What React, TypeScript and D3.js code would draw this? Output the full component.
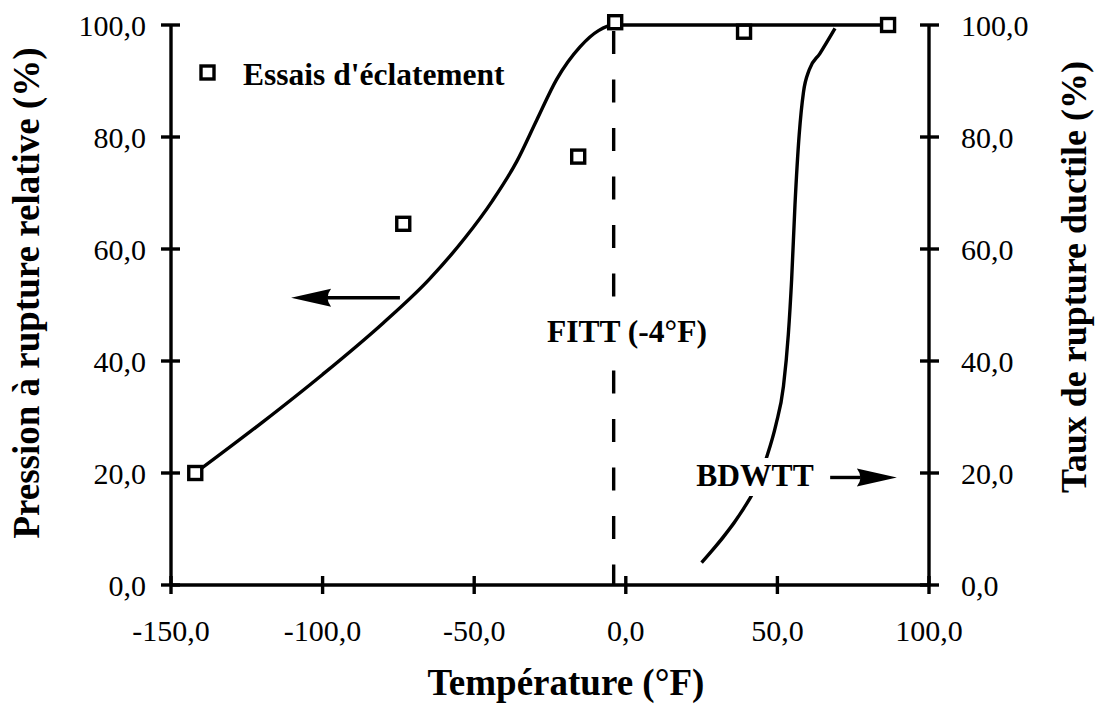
import React from "react";
import * as d3 from "d3";

// Burst tests (Essais d'éclatement): temperature (°F) and relative burst pressure (%)
const burstTemp = [-142, -73.4, -15.7, -3.5, 39, 86.5];
const burstPressure = [20, 64.5, 76.5, 100.5, 98.8, 100];

// Fitted relative burst pressure curve (left axis)
const pressureCurveTemp = [-142, -120, -100, -80, -65, -53, -44, -36, -29.4, -22.8, -15.1, -9, -4, 86.5];
const pressureCurveValue = [20, 29, 37.6, 46.8, 54.5, 62, 68.6, 75.6, 83, 90.3, 96.1, 99, 100, 100];

// BDWTT ductile fracture curve (right axis)
const ductileCurveTemp = [25, 38.8, 42, 46.5, 49.5, 52, 53.6, 54.7, 55.8, 57.2, 58.6, 60.5, 64, 69];
const ductileCurveValue = [4, 13.6, 16.5, 22.9, 28.6, 35.5, 44.7, 54.6, 67.9, 80.5, 88, 92, 94.9, 99.4];

// Axis ticks
const xTicks = [-150, -100, -50, 0, 50, 100];
const yTicks = [0, 20, 40, 60, 80, 100];

// FITT transition temperature
const fittTemp = -4;

const fmt = (v: number) => v.toFixed(1).replace(".", ",");

const W = 1099;
const H = 711;
const SERIF = "'Liberation Serif', 'Times New Roman', Times, serif";
const SW = 3.4;

export default function App() {
  const x = d3.scaleLinear().domain([-150, 100]).range([171, 929]);
  const y = d3.scaleLinear().domain([0, 100]).range([585, 25]);
  const yR = d3.scaleLinear().domain([0, 100]).range([585, 25]);

  const line = d3
    .line<[number, number]>()
    .x((d) => x(d[0]))
    .curve(d3.curveMonotoneX);

  const pressurePath = line.y((d) => y(d[1]))(
    pressureCurveTemp.map((t, i) => [t, pressureCurveValue[i]] as [number, number])
  );
  const ductilePath = line.y((d) => yR(d[1]))(
    ductileCurveTemp.map((t, i) => [t, ductileCurveValue[i]] as [number, number])
  );

  const x0 = x(-150);
  const x1 = x(100);
  const yb = y(0);
  const yt = y(100);
  const tick = 9;
  const sq = 13;

  // arrow helper: shaft + triangular head
  const arrow = (fromT: number, toT: number, v: number, scale: (n: number) => number) => {
    const xa = x(fromT);
    const xb = x(toT);
    const yy = scale(v);
    const dir = Math.sign(xb - xa);
    const headLen = 40;
    const half = 9;
    const base = xb - dir * headLen;
    return (
      <g>
        <line x1={xa} y1={yy} x2={base + dir * 4} y2={yy} stroke="#000" strokeWidth={SW} />
        <path
          d={`M${xb},${yy} L${base},${yy - half} Q${base + dir * 7},${yy} ${base},${yy + half} Z`}
          fill="#000"
        />
      </g>
    );
  };

  const fx = x(fittTemp);

  return (
    <svg
      width={W}
      height={H}
      style={{ position: "absolute", left: 0, top: 0, background: "#fff" }}
      fontFamily={SERIF}
    >
      <rect width={W} height={H} fill="#fff" />

      {/* FITT dashed marker */}
      <line
        x1={fx}
        x2={fx}
        y1={yt + 6}
        y2={yb}
        stroke="#000"
        strokeWidth={SW}
        strokeDasharray="23 25.5"
      />

      {/* curves */}
      <path d={pressurePath ?? ""} fill="none" stroke="#000" strokeWidth={SW} />
      <path d={ductilePath ?? ""} fill="none" stroke="#000" strokeWidth={SW} />

      {/* axes */}
      <g stroke="#000" strokeWidth={SW}>
        <line x1={x0} y1={yb} x2={x1} y2={yb} />
        <line x1={x0} y1={yt} x2={x0} y2={yb} />
        <line x1={x1} y1={yt} x2={x1} y2={yb} />
        {xTicks.map((t) => (
          <line key={"xt" + t} x1={x(t)} x2={x(t)} y1={yb - tick} y2={yb + tick} />
        ))}
        {yTicks.map((t) => (
          <line key={"yl" + t} x1={x0 - tick - 1} x2={x0 + tick} y1={y(t)} y2={y(t)} />
        ))}
        {yTicks.map((t) => (
          <line key={"yr" + t} x1={x1 - tick} x2={x1 + tick + 1} y1={yR(t)} y2={yR(t)} />
        ))}
      </g>

      {/* tick labels */}
      <g fontSize={30} fill="#000">
        {xTicks.map((t) => (
          <text key={"xl" + t} x={x(t)} y={641} textAnchor="middle">
            {fmt(t)}
          </text>
        ))}
        {yTicks.map((t) => (
          <text key={"yll" + t} x={146} y={y(t) + 11} textAnchor="end">
            {fmt(t)}
          </text>
        ))}
        {yTicks.map((t) => (
          <text key={"yrl" + t} x={961} y={yR(t) + 11} textAnchor="start">
            {fmt(t)}
          </text>
        ))}
      </g>

      {/* burst test markers */}
      {burstTemp.map((t, i) => (
        <rect
          key={"b" + i}
          x={x(t) - sq / 2}
          y={y(burstPressure[i]) - sq / 2}
          width={sq}
          height={sq}
          fill="#fff"
          stroke="#000"
          strokeWidth={SW}
        />
      ))}

      {/* legend */}
      <rect x={207.5 - sq / 2} y={72.5 - sq / 2} width={sq} height={sq} fill="#fff" stroke="#000" strokeWidth={SW} />
      <text x={243} y={85} fontSize={31.5} fontWeight="bold">
        Essais d'éclatement
      </text>

      {/* FITT label */}
      <rect x={fx - 20} y={306} width={120} height={52} fill="#fff" />
      <text x={627} y={342} fontSize={31.5} fontWeight="bold" textAnchor="middle">
        FITT (-4°F)
      </text>

      {/* BDWTT label */}
      <rect x={695} y={458} width={120} height={38} fill="#fff" />
      <text x={755} y={486} fontSize={31.5} fontWeight="bold" textAnchor="middle">
        BDWTT
      </text>

      {/* arrows pointing to the relevant axis */}
      {arrow(-74.5, -110.4, 51.3, y)}
      {arrow(67.4, 89.4, 19.2, yR)}

      {/* axis titles */}
      <text x={566} y={695} fontSize={37} fontWeight="bold" textAnchor="middle">
        Température (°F)
      </text>
      <text transform="translate(39,293) rotate(-90)" fontSize={37} fontWeight="bold" textAnchor="middle">
        Pression à rupture relative (%)
      </text>
      <text transform="translate(1086,277) rotate(-90)" fontSize={36} fontWeight="bold" textAnchor="middle">
        Taux de rupture ductile (%)
      </text>
    </svg>
  );
}
